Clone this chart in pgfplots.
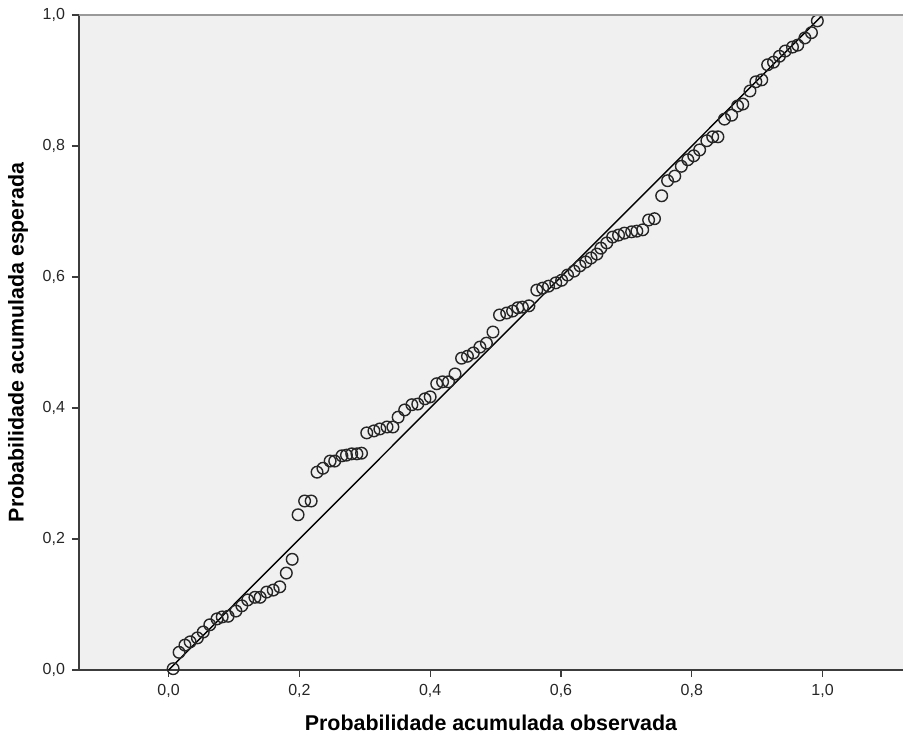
\documentclass[border=0pt]{standalone}
\usepackage{pgfplots}
\pgfplotsset{compat=1.18}
\usepackage{fontspec}
\setmainfont{Liberation Sans}
\definecolor{bg}{RGB}{240,240,240}
\definecolor{axc}{RGB}{60,60,60}
\begin{document}
\begin{tikzpicture}
\begin{axis}[
  at={(0,0)}, anchor=south west,
  scale only axis, width=412pt, height=327.5pt,
  xmin=-0.137, xmax=1.123, ymin=0, ymax=1,
  axis background/.style={fill=bg},
  axis x line*=bottom, axis y line*=left,
  axis line style={draw=axc, line width=1pt, -},
  tick align=outside, major tick length=3.5pt,
  tick style={draw=axc, line width=0.6pt},
  xtick={0,0.2,0.4,0.6,0.8,1.0},
  ytick={0,0.2,0.4,0.6,0.8,1.0},
  minor tick num=0,
  /pgf/number format/.cd, use comma, fixed, fixed zerofill, precision=1, assume math mode=true,
  /pgfplots/.cd,
  ticklabel style={font=\fontsize{8}{9.5}\selectfont, text=black!85},
  xlabel={Probabilidade acumulada observada},
  ylabel={Probabilidade acumulada esperada},
  label style={font=\fontsize{10.7}{12.5}\selectfont\bfseries},
  xlabel style={at={(rel axis cs:0.5,0)}, anchor=center, yshift=-26.5pt},
  ylabel style={at={(rel axis cs:0,0.5)}, anchor=center, yshift=30.5pt},
  clip=false,
  after end axis/.code={
    \draw[draw=gray!80, line width=1pt] (rel axis cs:0,1) -- (rel axis cs:1,1);
  },
]
\addplot[black, line width=0.7pt, no marks] coordinates {(0,0) (1,1)};
\addplot[only marks, mark=o, mark size=2.9pt, mark options={draw=black!85, line width=0.7pt}] coordinates {
(0.007,0.002) (0.016,0.027) (0.025,0.038) (0.033,0.043) (0.044,0.049)
(0.053,0.058) (0.063,0.069) (0.074,0.078) (0.082,0.081) (0.091,0.082)
(0.103,0.090) (0.112,0.098) (0.121,0.107) (0.132,0.111) (0.140,0.111)
(0.150,0.119) (0.160,0.122) (0.170,0.127) (0.180,0.148) (0.189,0.169)
(0.198,0.237) (0.208,0.258) (0.218,0.258) (0.227,0.302) (0.236,0.308)
(0.247,0.319) (0.254,0.319) (0.265,0.327) (0.272,0.328) (0.280,0.330)
(0.288,0.330) (0.295,0.331) (0.303,0.362) (0.314,0.365) (0.323,0.368)
(0.334,0.371) (0.343,0.371) (0.351,0.386) (0.361,0.397) (0.372,0.405)
(0.381,0.406) (0.392,0.414) (0.400,0.417) (0.410,0.437) (0.419,0.440)
(0.428,0.440) (0.438,0.452) (0.448,0.476) (0.457,0.479) (0.466,0.484)
(0.476,0.493) (0.486,0.499) (0.496,0.516) (0.506,0.542) (0.517,0.545)
(0.526,0.548) (0.534,0.553) (0.541,0.554) (0.551,0.556) (0.563,0.580)
(0.572,0.583) (0.581,0.586) (0.592,0.591) (0.601,0.595) (0.610,0.603)
(0.620,0.609) (0.629,0.617) (0.638,0.623) (0.646,0.629) (0.655,0.635)
(0.661,0.644) (0.670,0.652) (0.679,0.661) (0.688,0.664) (0.697,0.667)
(0.708,0.669) (0.716,0.670) (0.725,0.672) (0.734,0.687) (0.743,0.689)
(0.754,0.724) (0.763,0.747) (0.774,0.754) (0.784,0.769) (0.794,0.779)
(0.803,0.785) (0.812,0.794) (0.823,0.808) (0.832,0.814) (0.840,0.814)
(0.850,0.841) (0.861,0.847) (0.870,0.861) (0.878,0.864) (0.889,0.884)
(0.898,0.898) (0.907,0.901) (0.916,0.924) (0.925,0.928) (0.934,0.937)
(0.943,0.945) (0.954,0.951) (0.962,0.954) (0.973,0.965) (0.983,0.973)
(0.992,0.991)
};
\end{axis}
\pgfresetboundingbox
\path (-39.5pt,-36pt) rectangle (412pt,335pt);
\end{tikzpicture}
\end{document}
